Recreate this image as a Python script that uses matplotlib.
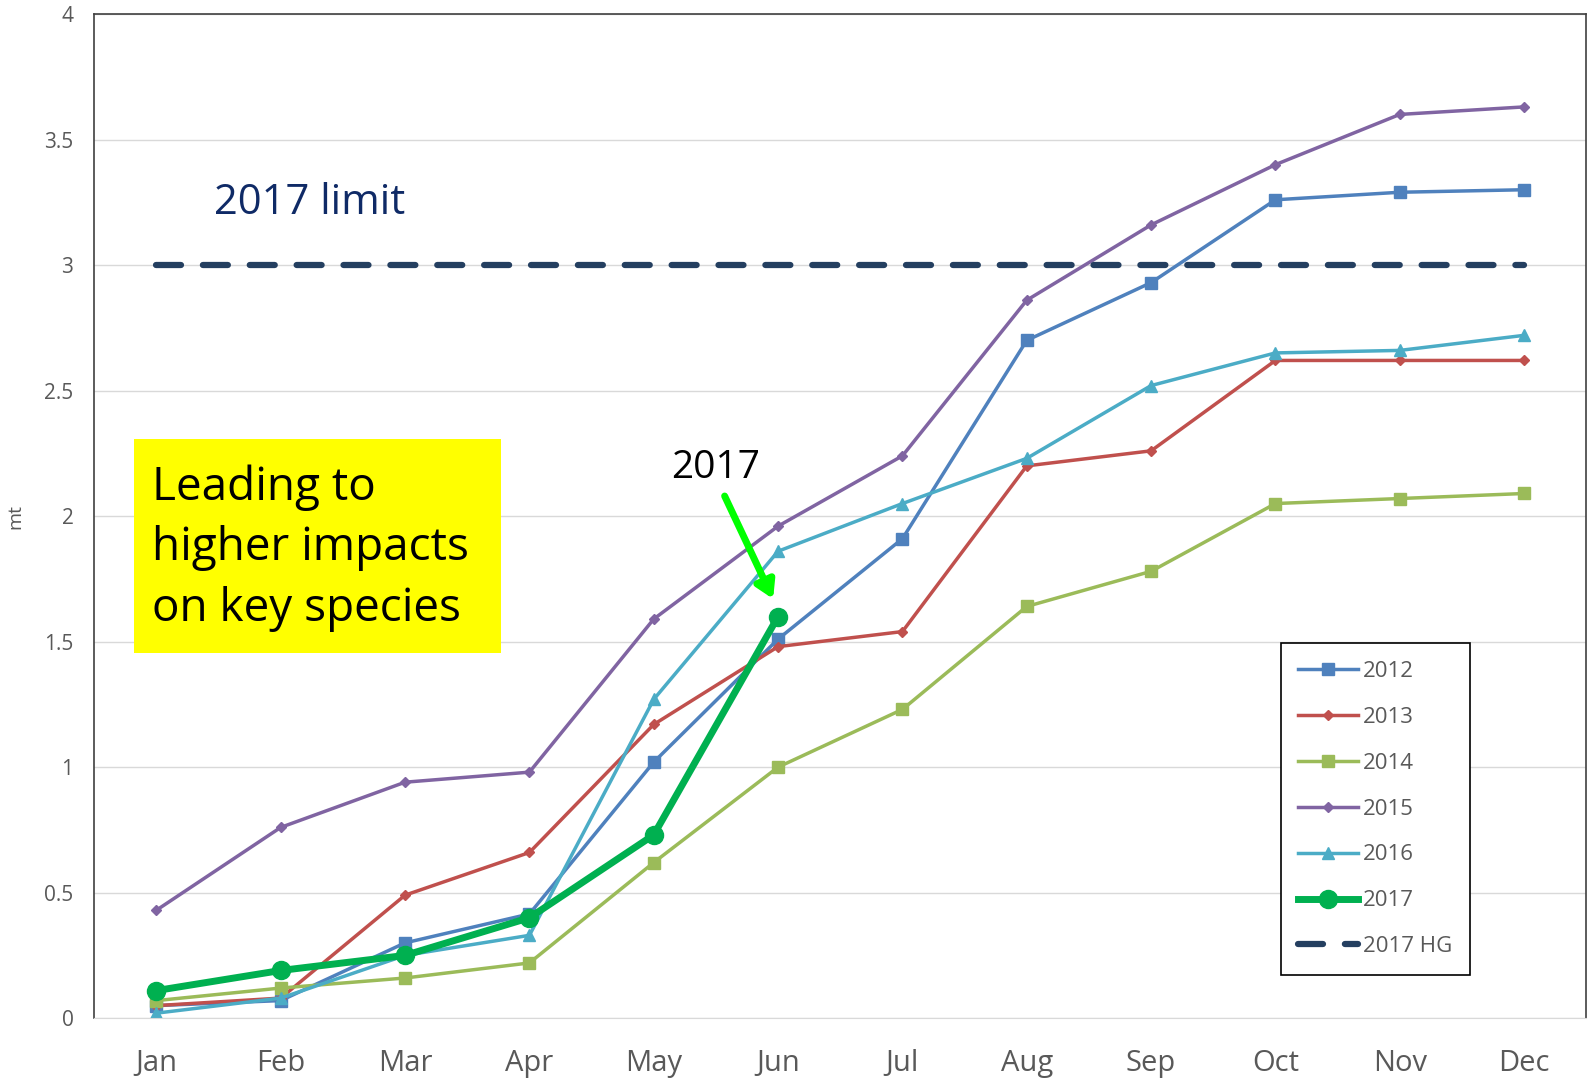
import matplotlib.pyplot as plt
from matplotlib.patches import Rectangle

months = ['Jan', 'Feb', 'Mar', 'Apr', 'May', 'Jun',
          'Jul', 'Aug', 'Sep', 'Oct', 'Nov', 'Dec']

y2012 = [0.05, 0.07, 0.30, 0.415, 1.02, 1.51, 1.91, 2.70, 2.93, 3.26, 3.29, 3.30]
y2013 = [0.05, 0.08, 0.49, 0.66, 1.17, 1.48, 1.54, 2.20, 2.26, 2.62, 2.62, 2.62]
y2014 = [0.07, 0.12, 0.16, 0.22, 0.62, 1.00, 1.23, 1.64, 1.78, 2.05, 2.07, 2.09]
y2015 = [0.43, 0.76, 0.94, 0.98, 1.59, 1.96, 2.24, 2.86, 3.16, 3.40, 3.60, 3.63]
y2016 = [0.02, 0.08, 0.25, 0.33, 1.27, 1.86, 2.05, 2.23, 2.52, 2.65, 2.66, 2.72]
y2017 = [0.11, 0.19, 0.25, 0.40, 0.73, 1.60]
hg2017 = [3.0] * 12

yticks = [0, 0.5, 1, 1.5, 2, 2.5, 3, 3.5, 4]
ytick_labels = ['0', '0.5', '1', '1.5', '2', '2.5', '3', '3.5', '4']


def main():
    plt.rcParams['font.family'] = ['Open Sans', 'DejaVu Sans']
    fig = plt.figure(figsize=(15.89, 10.78), dpi=100)
    ax = fig.add_axes([0.0593, 0.0555, 0.939, 0.9315])

    x = list(range(len(months)))
    ax.plot(x, y2012, color='#4F81BD', lw=2.5, marker='s', ms=8, label='2012')
    ax.plot(x, y2013, color='#C0504D', lw=2.5, marker='D', ms=5, label='2013')
    ax.plot(x, y2014, color='#9BBB59', lw=2.5, marker='s', ms=8, label='2014')
    ax.plot(x, y2015, color='#8064A2', lw=2.5, marker='D', ms=5, label='2015')
    ax.plot(x, y2016, color='#4BACC6', lw=2.5, marker='^', ms=8, label='2016')
    ax.plot(x[:len(y2017)], y2017, color='#00B050', lw=5, marker='o', ms=13,
            label='2017', zorder=5)
    ax.plot(x, hg2017, color='#243F60', lw=4.5, dashes=(4, 3.5),
            dash_capstyle='round', label='2017 HG')

    ax.set_xlim(-0.5, 11.5)
    ax.set_ylim(0, 4)
    ax.set_xticks(x)
    ax.set_xticklabels(months, fontsize=21, color='#595959')
    ax.set_yticks(yticks)
    ax.set_yticklabels(ytick_labels, fontsize=15, color='#595959')
    ax.tick_params(axis='x', length=0, pad=22)
    ax.tick_params(axis='y', length=0, pad=15)
    ax.set_ylabel('mt', fontsize=14, color='#595959', labelpad=14)
    ax.grid(axis='y', color='#D9D9D9', lw=1)
    ax.set_axisbelow(True)
    for side in ['left', 'top', 'right']:
        ax.spines[side].set_color('#404040')
        ax.spines[side].set_linewidth(1.2)
    ax.spines['bottom'].set_color('#D9D9D9')

    leg = ax.legend(loc='lower right', bbox_to_anchor=(0.922, 0.043),
                    borderaxespad=0,
                    fontsize=16, labelcolor='#595959', frameon=True,
                    fancybox=False, edgecolor='black', framealpha=1,
                    handlelength=2.7, labelspacing=1.12, borderpad=0.8,
                    handletextpad=0.2)
    leg.get_frame().set_linewidth(1.2)

    ax.text(0.0805, 0.812, '2017 limit', transform=ax.transAxes,
            fontsize=30, color='#0F2A66', va='center')

    box = Rectangle((0.0265, 0.364), 0.246, 0.213, transform=ax.transAxes,
                    facecolor='#FFFF00', edgecolor='none', zorder=6)
    ax.add_patch(box)
    ax.text(0.039, 0.468, 'Leading to\nhigher impacts\non key species',
            transform=ax.transAxes, fontsize=33, color='black',
            va='center', ha='left', linespacing=1.42, zorder=7)

    ax.text(4.5, 2.19, '2017', fontsize=28, color='black',
            ha='center', va='center', zorder=7)
    ax.annotate('', xy=(4.96, 1.67), xytext=(4.57, 2.08),
                arrowprops=dict(arrowstyle='-|>,head_length=1.0,head_width=0.6',
                                color='#00FF00', lw=5, shrinkA=0, shrinkB=0),
                zorder=7)

    fig.savefig('out.png', dpi=100)


if __name__ == '__main__':
    main()
